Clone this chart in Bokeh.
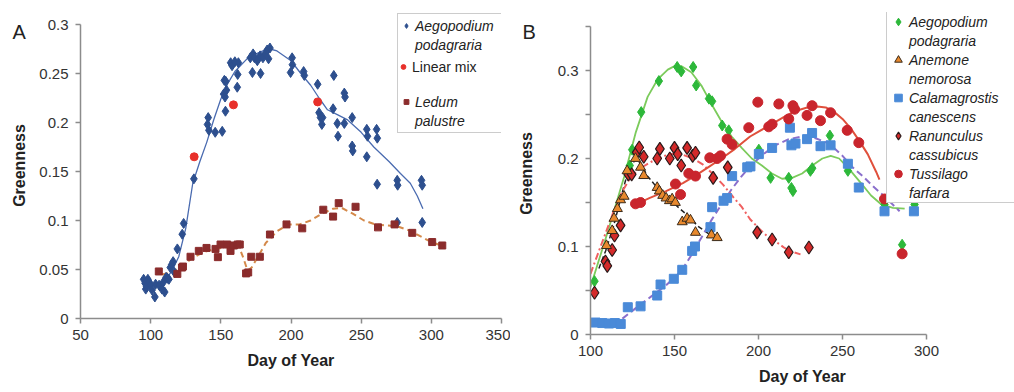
from bokeh.plotting import figure
from bokeh.layouts import row
from bokeh.models import (Range1d, FixedTicker, CustomJSTickFormatter, Legend, LegendItem)
from bokeh.embed import file_html
from bokeh.resources import INLINE

# ---------------- Panel A data ----------------
aeg_a_day = [95, 96, 96.5, 97, 98, 99, 100, 101, 103, 103.5, 106, 108, 109, 110, 111, 112, 113, 114, 115, 116, 117,
             119, 122.5, 123.5, 130.8, 140.5, 141, 141.5, 146, 151, 152, 153, 153.3, 154, 152.5, 153.5, 157, 158,
             161.7, 162, 160, 162.5, 171, 173, 174, 176, 178, 180, 182, 183, 185, 184, 172.5, 178.3,
             200.8, 201, 199.7, 209, 209.5, 219, 220, 221, 222, 230.5, 238, 238.5, 230, 222.5, 233, 233.5, 238,
             243.6, 254, 261, 254.5, 261.5, 243.6, 244, 254, 261.4, 275.7, 276, 293, 293.5, 275.7, 293.5]
aeg_a_val = [0.040, 0.036, 0.030, 0.033, 0.040, 0.037, 0.034, 0.029, 0.022, 0.035, 0.034, 0.030, 0.037, 0.027, 0.042,
             0.041, 0.040, 0.052, 0.055, 0.058, 0.047, 0.071, 0.086, 0.097, 0.1425, 0.198, 0.205, 0.192, 0.190,
             0.191, 0.229, 0.226, 0.2115, 0.233, 0.243, 0.242, 0.261, 0.258, 0.236, 0.249, 0.262, 0.261, 0.266,
             0.270, 0.266, 0.263, 0.268, 0.266, 0.271, 0.274, 0.276, 0.265, 0.251, 0.250, 0.266, 0.259, 0.251,
             0.252, 0.248, 0.239, 0.210, 0.205, 0.198, 0.248, 0.230, 0.226, 0.214, 0.205, 0.199, 0.186, 0.199,
             0.205, 0.193, 0.193, 0.186, 0.184, 0.176, 0.171, 0.165, 0.137, 0.141, 0.136, 0.141, 0.136, 0.098, 0.098]
aeg_a_fit_day = [110, 115, 120, 125, 130, 135, 140, 145, 150, 155, 160, 170, 180, 185, 190, 200, 207, 214, 220, 226,
                 233, 240, 250, 259, 270, 278, 285, 290, 294]
aeg_a_fit_val = [0.039, 0.048, 0.063, 0.092, 0.138, 0.160, 0.180, 0.203, 0.224, 0.240, 0.252, 0.267, 0.273, 0.275,
                 0.273, 0.263, 0.250, 0.238, 0.225, 0.213, 0.208, 0.203, 0.190, 0.175, 0.160, 0.148, 0.138, 0.125, 0.112]

mix_day = [131, 159, 219]
mix_val = [0.165, 0.218, 0.221]

ledum_day = [105.8, 119, 122.3, 123, 128.4, 134.3, 139.8, 146.2, 147.9, 149.8, 154.5, 156.9, 159.3, 162, 163.5,
             168, 169.5, 171.7, 177.8, 185, 196.8, 208, 223, 230, 234, 246, 262, 273.8, 286.4, 300.6, 307.8]
ledum_val = [0.048, 0.0455, 0.052, 0.053, 0.063, 0.069, 0.072, 0.071, 0.0626, 0.0755, 0.0755, 0.069, 0.0745, 0.0755,
             0.0755, 0.046, 0.047, 0.063, 0.063, 0.0857, 0.096, 0.092, 0.111, 0.104, 0.1177, 0.114, 0.093, 0.096,
             0.0874, 0.078, 0.0745]
ledum_fit_day = [108, 115, 122, 130, 138, 146, 154, 160, 163, 166, 169, 172, 176, 182, 190, 198, 206, 214, 222, 230,
                 236, 244, 252, 260, 268, 276, 284, 292, 300, 306]
ledum_fit_val = [0.045, 0.047, 0.053, 0.062, 0.068, 0.071, 0.073, 0.075, 0.073, 0.062, 0.049, 0.052, 0.062, 0.077,
                 0.089, 0.096, 0.096, 0.100, 0.107, 0.112, 0.113, 0.107, 0.100, 0.096, 0.095, 0.094, 0.090, 0.084,
                 0.078, 0.075]

# ---------------- Panel B data ----------------
aeg_b_day = [102.4, 123.4, 124.8, 130.2, 140.7, 151.6, 154, 161.1, 162.9, 170.5, 172.4, 178.4, 182.3, 200.2, 207.2,
             218, 219.6, 220.5, 230.9, 232, 242.5, 253.2, 275, 285.5, 292.9]
aeg_b_val = [0.0606, 0.192, 0.21, 0.2527, 0.288, 0.304, 0.299, 0.304, 0.283, 0.268, 0.265, 0.2375, 0.232, 0.21,
             0.178, 0.178, 0.1665, 0.163, 0.186, 0.189, 0.226, 0.186, 0.1477, 0.102, 0.1477]
aeg_b_fit_day = [100, 110, 120, 127, 134, 140, 146, 150, 154, 160, 166, 172, 178, 184, 190, 196, 202, 208, 214, 220,
                 226, 232, 238, 243, 248, 254, 261, 267, 273, 280, 287]
aeg_b_fit_val = [0.054, 0.115, 0.179, 0.230, 0.270, 0.290, 0.301, 0.305, 0.305, 0.298, 0.283, 0.262, 0.242, 0.225,
                 0.212, 0.200, 0.192, 0.183, 0.177, 0.178, 0.183, 0.192, 0.200, 0.203, 0.200, 0.188, 0.172, 0.158,
                 0.148, 0.144, 0.143]

anem_day = [109.5, 112.9, 114, 116, 117.9, 120, 121.8, 126.8, 129.8, 131.7, 139.7, 141, 143, 145, 147, 148.6, 150.5,
            154.6, 157.5, 159.5, 162.5, 172, 175.4]
anem_val = [0.101, 0.118, 0.132, 0.143, 0.153, 0.157, 0.186, 0.2, 0.19, 0.1805, 0.167, 0.163, 0.158, 0.155, 0.152,
            0.154, 0.15, 0.128, 0.132, 0.13, 0.116, 0.113, 0.11]
anem_fit_day = [105, 109, 114, 118, 122, 126, 128, 131, 134, 140, 146, 152, 158, 164, 170, 177]
anem_fit_val = [0.075, 0.095, 0.125, 0.155, 0.183, 0.197, 0.199, 0.19, 0.18, 0.166, 0.156, 0.145, 0.135, 0.123,
                0.115, 0.109]

cala_day = [103, 107, 111, 114.5, 118, 122.2, 129.8, 139.7, 141.7, 149.6, 154.6, 160.5, 162.2, 171.4, 172.4, 179.2,
            181.3, 184.3, 193.3, 195.2, 200.2, 208.1, 218.7, 219.6, 222, 228.9, 231.9, 236.9, 242.9, 253.2, 259.7,
            275, 292.5]
cala_val = [0.0136, 0.013, 0.0125, 0.013, 0.012, 0.031, 0.032, 0.0443, 0.0568, 0.0633, 0.0735, 0.095, 0.1, 0.122,
            0.1447, 0.152, 0.155, 0.18, 0.19, 0.191, 0.205, 0.212, 0.235, 0.215, 0.217, 0.222, 0.229, 0.214, 0.215,
            0.194, 0.167, 0.14, 0.14]
cala_fit_day = [119, 127, 136, 145, 154, 160, 166, 172, 178, 184, 190, 196, 203, 210, 218, 226, 234, 242, 250, 256,
                262, 269, 276, 284]
cala_fit_val = [0.018, 0.03, 0.043, 0.056, 0.072, 0.09, 0.11, 0.13, 0.148, 0.165, 0.18, 0.193, 0.205, 0.215, 0.222,
                0.225, 0.223, 0.217, 0.203, 0.19, 0.18, 0.167, 0.155, 0.14]

ranu_day = [102.4, 108.9, 110, 112.9, 114.3, 117.9, 122.5, 124.5, 127.5, 129, 131.7, 139.7, 141.3, 147.2, 150,
            151.9, 154, 157.5, 160.8, 162.5, 173, 181.7, 199.2, 208.1, 218, 230]
ranu_val = [0.0474, 0.083, 0.078, 0.096, 0.1125, 0.124, 0.182, 0.182, 0.207, 0.2125, 0.202, 0.2, 0.211, 0.2, 0.212,
            0.205, 0.192, 0.212, 0.203, 0.2065, 0.178, 0.19, 0.116, 0.108, 0.0935, 0.0989]
ranu_fit_day = [100, 107, 114, 119, 124, 129, 134, 140, 147, 154, 161, 167, 173, 179, 185, 190, 195, 200, 205, 210,
                215, 220, 225]
ranu_fit_val = [0.069, 0.105, 0.141, 0.163, 0.179, 0.188, 0.194, 0.2, 0.205, 0.205, 0.2, 0.193, 0.182, 0.17, 0.156,
                0.145, 0.131, 0.121, 0.112, 0.106, 0.099, 0.094, 0.091]

tuss_day = [126.8, 129.8, 150.6, 153.6, 158.5, 162.5, 171, 175.4, 177.4, 181.3, 184.3, 194.2, 199.6, 206.1, 208.1,
            212.1, 218, 220.5, 221.5, 228.9, 231.9, 236.9, 242.9, 252.8, 259.7, 275, 285.5]
tuss_val = [0.1485, 0.15, 0.171, 0.159, 0.183, 0.18, 0.2008, 0.2, 0.203, 0.222, 0.216, 0.235, 0.264, 0.236, 0.239,
            0.262, 0.245, 0.26, 0.256, 0.249, 0.26, 0.243, 0.252, 0.232, 0.218, 0.154, 0.0917]
tuss_fit_day = [126, 135, 145, 155, 162, 170, 178, 186, 195, 205, 215, 222, 229, 235, 240, 245, 250, 255, 260, 265,
                270, 272]
tuss_fit_val = [0.147, 0.155, 0.163, 0.172, 0.18, 0.19, 0.2, 0.211, 0.225, 0.236, 0.247, 0.254, 0.258, 0.259, 0.258,
                0.253, 0.245, 0.234, 0.22, 0.205, 0.185, 0.176]

xticks_a = [50, 100, 150, 200, 250, 300, 350]
yticks_a = [0, 0.05, 0.1, 0.15, 0.2, 0.25, 0.3]
xticks_b = [100, 150, 200, 250, 300]
yticks_b = [0, 0.1, 0.2, 0.3]
yminor_b = [0.05, 0.15, 0.25, 0.35]

FONT = "Liberation Sans"
AX = "#8c8c8c"
fmt = CustomJSTickFormatter(code="return String(Math.round(tick*1000)/1000);")


def style(p, xticker, yticker, xb, yb, ylab_standoff, panel_letter):
    p.xaxis.ticker = xticker
    p.yaxis.ticker = yticker
    p.xaxis.bounds = xb
    p.yaxis.bounds = yb
    for ax in (p.xaxis[0], p.yaxis[0]):
        ax.formatter = fmt
        ax.axis_line_color = AX
        ax.axis_line_width = 1.5
        ax.major_tick_line_color = AX
        ax.major_tick_line_width = 1.5
        ax.minor_tick_line_color = AX
        ax.minor_tick_line_width = 1.5
        ax.major_tick_in = 0
        ax.major_tick_out = 5
        ax.minor_tick_in = 0
        ax.minor_tick_out = 5
        ax.major_label_text_font = FONT
        ax.major_label_text_font_size = "15px"
        ax.major_label_text_color = "#333333"
        ax.axis_label_text_font = FONT
        ax.axis_label_text_font_size = "16px"
        ax.axis_label_text_font_style = "bold"
        ax.axis_label_text_color = "#222222"
    p.xaxis.major_label_standoff = 6
    p.yaxis.major_label_standoff = 7
    p.xaxis.axis_label = "Day of Year"
    p.yaxis.axis_label = "Greenness"
    p.xaxis.axis_label_standoff = 9
    p.yaxis.axis_label_standoff = ylab_standoff
    p.xgrid.visible = False
    p.ygrid.visible = False
    p.outline_line_color = None
    p.title.text = panel_letter
    p.title.align = "left"
    p.title.offset = -68
    p.title.standoff = -60
    p.title.vertical_align = "bottom"
    p.title.text_font = FONT
    p.title.text_font_size = "20px"
    p.title.text_font_style = "normal"
    p.title.text_color = "#222222"


def make_legend(items, loc, label_width, glyph_width, row_h, style_, pad, standoff, border=True):
    return Legend(items=items, location=loc, margin=0, padding=pad, spacing=0,
                  glyph_width=glyph_width, glyph_height=row_h, label_height=row_h,
                  label_standoff=standoff, label_width=label_width,
                  label_text_font=FONT, label_text_font_size="14px", label_text_font_style=style_,
                  label_text_color="#222222",
                  border_line_color="#9a9a9a" if border else None, border_line_width=1,
                  background_fill_color="white", background_fill_alpha=1.0 if border else 0.0)


# ---------------- Panel A ----------------
# frame: x 80..501 (days 50..350), y 12..318 ; value 0 at y=318, 980 px per unit
pA = figure(width=510, height=376, x_range=Range1d(50, 350), y_range=Range1d(0, 306 / 980),
            output_backend="svg", toolbar_location=None,
            min_border_left=80, min_border_right=9, min_border_top=12, min_border_bottom=58)
style(pA, FixedTicker(ticks=xticks_a), FixedTicker(ticks=yticks_a), (50, 350), (0, 0.3), 8, "A")

pA.line(ledum_fit_day, ledum_fit_val, line_color="#D4894A", line_width=2, line_dash="6 4")
pA.line(aeg_a_fit_day, aeg_a_fit_val, line_color="#4A6BB0", line_width=1.3)
rA = pA.scatter(aeg_a_day, aeg_a_val, marker="diamond", size=10, fill_color="#2D4F8E", line_color="#2D4F8E")
rL = pA.scatter(ledum_day, ledum_val, marker="square", size=7, fill_color="#8B2C2C", line_color="#8B2C2C")
rM = pA.scatter(mix_day, mix_val, marker="circle", size=8, fill_color="#E8302A", line_color="#E8302A")
blankA = pA.scatter(x=[], y=[], marker="circle", fill_alpha=0, line_alpha=0)

legA = make_legend([LegendItem(label="Aegopodium", renderers=[rA]),
                    LegendItem(label="podagraria", renderers=[blankA]),
                    LegendItem(label=" ", renderers=[blankA]),
                    LegendItem(label=" ", renderers=[blankA]),
                    LegendItem(label="Ledum", renderers=[rL]),
                    LegendItem(label="palustre", renderers=[blankA])],
                   (317, 185), 84, 12, 19, "italic", 2, 3)
pA.add_layout(legA)
legMix = make_legend([LegendItem(label="Linear mix", renderers=[rM])],
                     (317, 242), 60, 12, 19, "normal", 2, 3, border=False)
pA.add_layout(legMix)

# ---------------- Panel B ----------------
# frame: x 590..1014 (days 100..352.4), y 12..334 ; value 0 at y=334, 880 px per unit
pB = figure(width=504, height=392, x_range=Range1d(100, 100 + 424 / 1.68), y_range=Range1d(0, 322 / 880),
            output_backend="svg", toolbar_location=None,
            min_border_left=80, min_border_right=0, min_border_top=12, min_border_bottom=58)
style(pB, FixedTicker(ticks=xticks_b), FixedTicker(ticks=yticks_b, minor_ticks=yminor_b), (100, 300), (0, 0.35),
      20, "B")

pB.line(aeg_b_fit_day, aeg_b_fit_val, line_color="#7CCB5C", line_width=1.8)
pB.line(anem_fit_day, anem_fit_val, line_color="#222222", line_width=1.5, line_dash="5 3")
pB.line(cala_fit_day, cala_fit_val, line_color="#8A6FCC", line_width=2, line_dash="7 4")
pB.line(ranu_fit_day, ranu_fit_val, line_color="#F06060", line_width=2, line_dash="7 3 2 3")
pB.line(tuss_fit_day, tuss_fit_val, line_color="#E0503C", line_width=2)

r1 = pB.scatter(aeg_b_day, aeg_b_val, marker="diamond", size=11, fill_color="#2DB83A", line_color="#2DB83A")
r3 = pB.scatter(cala_day, cala_val, marker="square", size=9, fill_color="#4A8AD8", line_color="#4A8AD8")
r5 = pB.scatter(tuss_day, tuss_val, marker="circle", size=10, fill_color="#C9252D", line_color="#C9252D")
r4 = pB.scatter(ranu_day, ranu_val, marker="diamond", size=13, fill_color="#D42A2A", line_color="#2a1a1a",
                line_width=1.2)
r2 = pB.scatter(anem_day, anem_val, marker="triangle", size=10, fill_color="#E8892E", line_color="#3a2a1a",
                line_width=1)
blankB = pB.scatter(x=[], y=[], marker="circle", fill_alpha=0, line_alpha=0)

legB = make_legend([LegendItem(label="Aegopodium", renderers=[r1]),
                    LegendItem(label="podagraria", renderers=[blankB]),
                    LegendItem(label="Anemone", renderers=[r2]),
                    LegendItem(label="nemorosa", renderers=[blankB]),
                    LegendItem(label="Calamagrostis", renderers=[r3]),
                    LegendItem(label="canescens", renderers=[blankB]),
                    LegendItem(label="Ranunculus", renderers=[r4]),
                    LegendItem(label="cassubicus", renderers=[blankB]),
                    LegendItem(label="Tussilago", renderers=[r5]),
                    LegendItem(label="farfara", renderers=[blankB])],
                   (296, 131), 105, 22, 19, "italic", 0, 0)
pB.add_layout(legB)

layout = row(pA, pB)
open("out.html", "w").write(file_html(layout, INLINE))
